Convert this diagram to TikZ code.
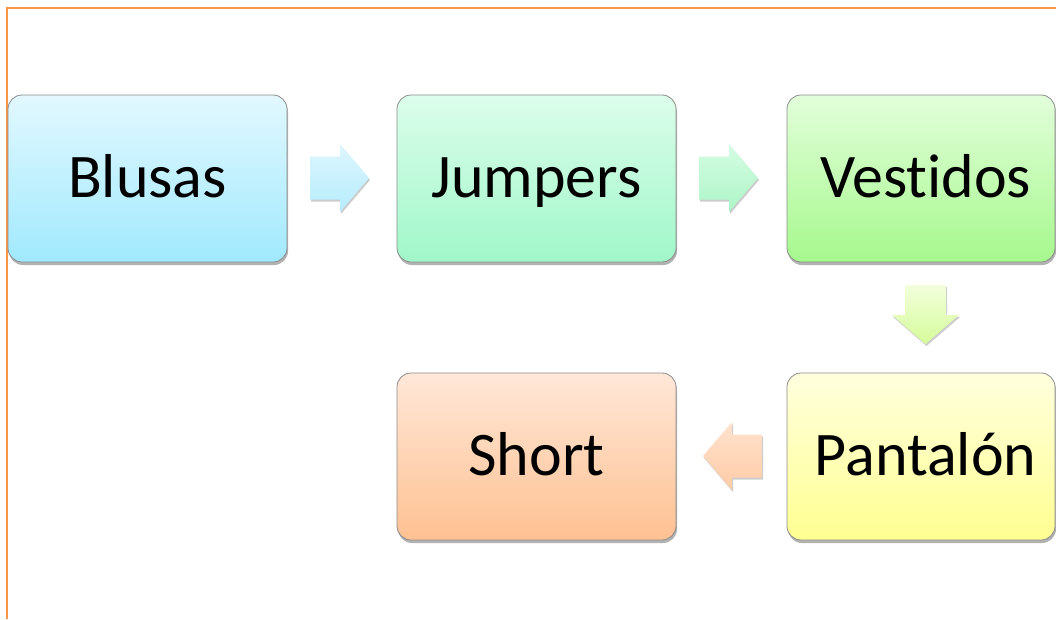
\documentclass[tikz,border=0pt]{standalone}
\usepackage{fontspec}
\setmainfont[Ligatures={NoCommon}]{Carlito}
\usetikzlibrary{shadows}
\definecolor{frameor}{HTML}{F79646}
\definecolor{bluT}{HTML}{E2F8FE}\definecolor{bluB}{HTML}{A1E9FD}
\definecolor{jumT}{HTML}{DCFDEB}\definecolor{jumB}{HTML}{A0F7C9}
\definecolor{vesT}{HTML}{E2FEDA}\definecolor{vesB}{HTML}{A6F88E}
\definecolor{panT}{HTML}{FFFFDE}\definecolor{panB}{HTML}{FFFF92}
\definecolor{shoT}{HTML}{FFE7D8}\definecolor{shoB}{HTML}{FEC192}
\definecolor{aaT}{HTML}{DDF6FE}\definecolor{aaB}{HTML}{B6ECFD}
\definecolor{abT}{HTML}{D6FCE4}\definecolor{abB}{HTML}{ACF5C6}
\definecolor{acT}{HTML}{F2FEDC}\definecolor{acB}{HTML}{D6FC9A}
\definecolor{adT}{HTML}{FFE2CE}\definecolor{adB}{HTML}{FECBA6}
\tikzset{
  x=1pt, y=-1pt,
  stepbox/.style={draw=black!45, line width=0.8pt, rounded corners=14pt,
    minimum height=167pt, inner sep=0pt, text height=45pt, text depth=8pt,
    font=\fontsize{62}{70}\selectfont,
    drop shadow={shadow xshift=1pt, shadow yshift=-3pt, opacity=0.3, fill=black}},
  arr/.style={drop shadow={shadow xshift=1pt, shadow yshift=-2pt, opacity=0.2, fill=black}}
}
\newcommand{\rarrow}[3]{%
  \path[arr, top color=#2, bottom color=#3] (#1) ++(-29.5,-21.5) -- ++(30,0) -- ++(0,-12.5) -- ++(29,34) -- ++(-29,34) -- ++(0,-12.5) -- ++(-30,0) -- cycle;}
\newcommand{\larrow}[3]{%
  \path[arr, top color=#2, bottom color=#3] (#1) ++(29.5,-21.5) -- ++(-30,0) -- ++(0,-12.5) -- ++(-29,34) -- ++(29,34) -- ++(0,-12.5) -- ++(30,0) -- cycle;}
\newcommand{\darrow}[3]{%
  \path[arr, top color=#2, bottom color=#3] (#1) ++(-20.5,-29.5) -- ++(41,0) -- ++(0,30) -- ++(13,0) -- ++(-33.5,29) -- ++(-33.5,-29) -- ++(13,0) -- cycle;}
\begin{document}
\begin{tikzpicture}
\useasboundingbox (0,0) rectangle (1056,619);
\fill[white] (0,0) rectangle (1056,619);
\draw[frameor, line width=2pt] (1056,8) -- (7,8) -- (7,619);

\node[stepbox, minimum width=279pt, top color=bluT, bottom color=bluB] (blusas) at (147.5,178.5) {Blusas};
\node[stepbox, minimum width=279pt, top color=jumT, bottom color=jumB] (jumpers) at (536.5,178.5) {Jumpers};
\node[stepbox, minimum width=268pt, top color=vesT, bottom color=vesB] (vestidos) at (921,178.5) {\hspace*{9pt}Vestidos};
\node[stepbox, minimum width=268pt, top color=panT, bottom color=panB] (pantalon) at (921,456.5) {\hspace*{9pt}Pantalón};
\node[stepbox, minimum width=279pt, top color=shoT, bottom color=shoB] (short) at (536.5,456.5) {Short};

\coordinate (a1) at (339.5,178);
\coordinate (a2) at (728.5,178);
\coordinate (a3) at (925.5,314.5);
\coordinate (a4) at (732.5,456);
\rarrow{a1}{aaT}{aaB}
\rarrow{a2}{abT}{abB}
\darrow{a3}{acT}{acB}
\larrow{a4}{adT}{adB}
\end{tikzpicture}
\end{document}
